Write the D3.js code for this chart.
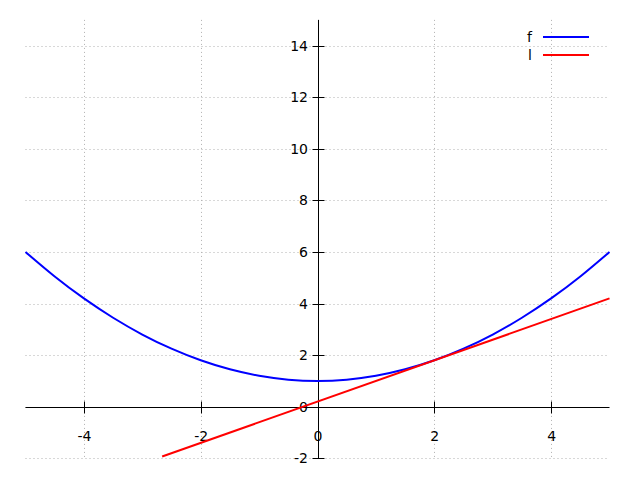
<!DOCTYPE html>
<html>
<head>
<meta charset="utf-8">
<script src="https://cdn.jsdelivr.net/npm/d3@7"></script>
<style>
  html, body { margin: 0; padding: 0; background: #fff; }
  svg { display: block; }
  text { font-family: "DejaVu Sans", sans-serif; font-size: 14px; fill: #000; }
</style>
</head>
<body>
<svg id="chart" width="640" height="480"></svg>
<script>
// Data
const xTicks = [-4, -2, 0, 2, 4];
const yTicks = [-2, 0, 2, 4, 6, 8, 10, 12, 14];
const fX = [-5, -4.5, -4, -3.5, -3, -2.5, -2, -1.5, -1, -0.5, 0, 0.5, 1, 1.5, 2, 2.5, 3, 3.5, 4, 4.5, 5];
const fY = [6, 5.05, 4.2, 3.45, 2.8, 2.25, 1.8, 1.45, 1.2, 1.05, 1, 1.05, 1.2, 1.45, 1.8, 2.25, 2.8, 3.45, 4.2, 5.05, 6];
const lX = [-2.66, 5];
const lY = [-1.93, 4.2];
const seriesNames = ["f", "l"];
const seriesColors = ["#0000ff", "#ff0000"];

const svg = d3.select("#chart");
const x = d3.scaleLinear().domain([-5, 5]).range([25.5, 609.5]);
const y = d3.scaleLinear().domain([-2, 15]).range([458.3, 19.9]);
const fmt = d => String(d);

// grid
const grid = svg.append("g");
grid.selectAll("line.h").data(yTicks).join("line")
  .attr("x1", x(-5)).attr("x2", x(5))
  .attr("y1", d => Math.round(y(d)) + 0.5).attr("y2", d => Math.round(y(d)) + 0.5)
  .attr("stroke", "#b0b0b0").attr("stroke-width", 1).attr("stroke-dasharray", "1,3");
grid.selectAll("line.v").data(xTicks).join("line")
  .attr("x1", d => Math.round(x(d)) + 0.5).attr("x2", d => Math.round(x(d)) + 0.5)
  .attr("y1", y(15)).attr("y2", y(-2))
  .attr("stroke", "#b0b0b0").attr("stroke-width", 1).attr("stroke-dasharray", "1,3");

// axes through zero
const x0 = Math.round(x(0)) + 0.5, y0 = Math.round(y(0)) + 0.5;
const xAxis = d3.axisBottom(x).tickValues(xTicks).tickFormat(fmt).tickSizeInner(0).tickSizeOuter(0).tickPadding(24);
const gx = svg.append("g").attr("transform", `translate(0,${y0 - 0.5})`).call(xAxis);
gx.select(".domain").remove();
gx.selectAll("text").style("font-family", "DejaVu Sans, sans-serif").style("font-size", "14px").attr("fill", "#000");
const yAxis = d3.axisLeft(y).tickValues(yTicks).tickFormat(fmt).tickSizeInner(0).tickSizeOuter(0).tickPadding(10);
const gy = svg.append("g").attr("transform", `translate(${x0 - 0.5},0)`).call(yAxis);
gy.select(".domain").remove();
gy.selectAll("text").style("font-family", "DejaVu Sans, sans-serif").style("font-size", "14px").attr("fill", "#000");

svg.append("line").attr("x1", x(-5)).attr("x2", x(5)).attr("y1", y0).attr("y2", y0).attr("stroke", "#000");
svg.append("line").attr("x1", x0).attr("x2", x0).attr("y1", y(15)).attr("y2", y(-2)).attr("stroke", "#000");
svg.selectAll("line.xt").data(xTicks).join("line")
  .attr("x1", d => Math.round(x(d)) + 0.5).attr("x2", d => Math.round(x(d)) + 0.5)
  .attr("y1", y0 - 6).attr("y2", y0 + 6).attr("stroke", "#000");
svg.selectAll("line.yt").data(yTicks).join("line")
  .attr("y1", d => Math.round(y(d)) + 0.5).attr("y2", d => Math.round(y(d)) + 0.5)
  .attr("x1", x0 - 6).attr("x2", x0 + 6).attr("stroke", "#000");

// series
const line = d3.line().x(d => x(d[0])).y(d => y(d[1])).curve(d3.curveNatural);
svg.append("path").datum(fX.map((v, i) => [v, fY[i]]))
  .attr("d", line).attr("fill", "none").attr("stroke", seriesColors[0]).attr("stroke-width", 2);
svg.append("path").datum(lX.map((v, i) => [v, lY[i]]))
  .attr("d", d3.line().x(d => x(d[0])).y(d => y(d[1]))).attr("fill", "none")
  .attr("stroke", seriesColors[1]).attr("stroke-width", 2);

// legend
const leg = svg.append("g");
seriesNames.forEach((n, i) => {
  const yy = 37 + i * 18;
  leg.append("text").attr("x", 532).attr("y", yy + 5).attr("text-anchor", "end").text(n);
  leg.append("line").attr("x1", 543).attr("x2", 589).attr("y1", yy).attr("y2", yy)
    .attr("stroke", seriesColors[i]).attr("stroke-width", 2);
});
</script>
</body>
</html>
